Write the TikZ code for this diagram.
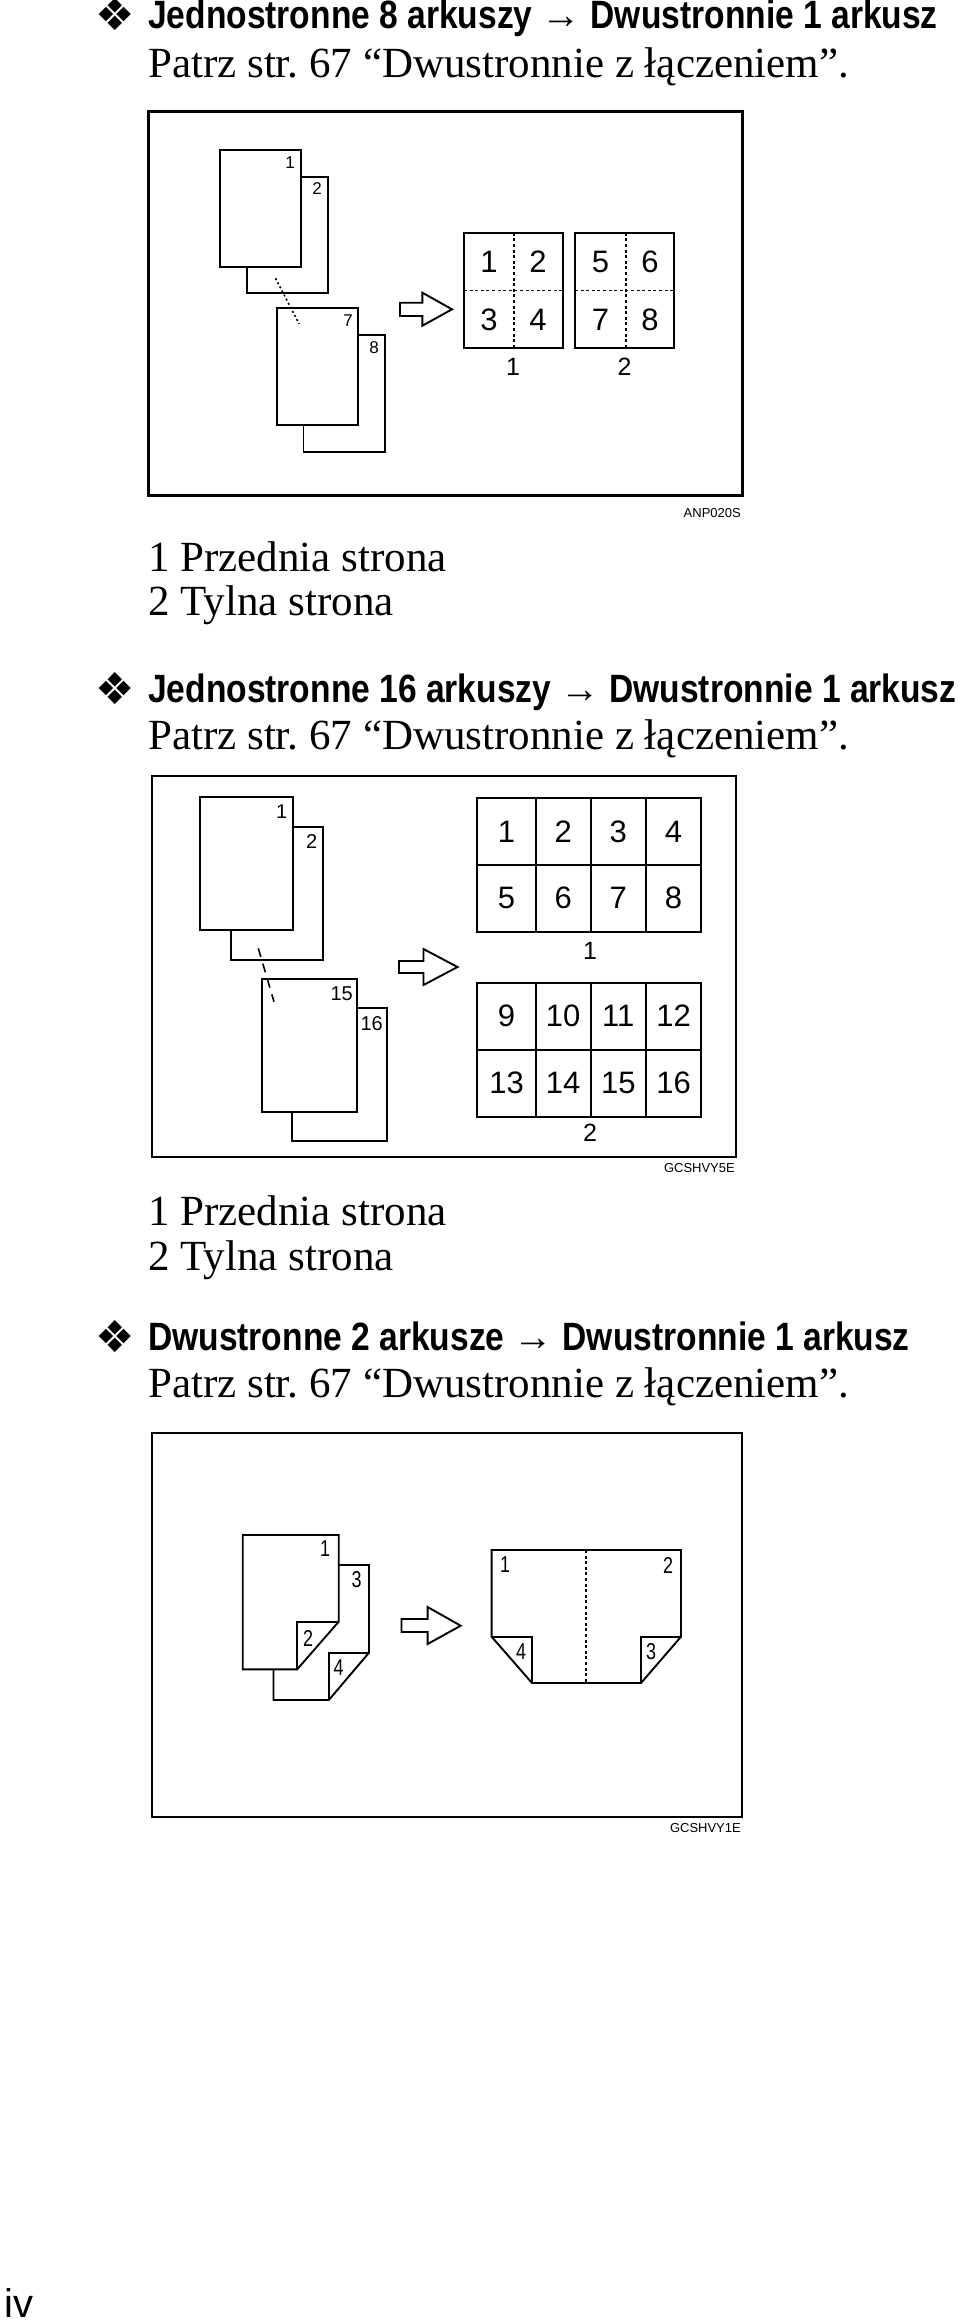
\documentclass[tikz,border=0pt]{standalone}
\usepackage{fontspec}
\setmainfont{Liberation Serif}
\newfontfamily\figfont{Liberation Sans}
\newfontfamily\headfont{Liberation Sans}[FakeStretch=0.85]
\newfontfamily\condfont{Liberation Sans}[FakeStretch=0.78]
\newfontfamily\dingfont{DejaVu Sans}
\newcommand{\bullitem}{{\dingfont\fontsize{44}{44}\selectfont ❖}}
\newcommand{\toarrow}{{\figfont\mdseries →}}

\begin{document}
\begin{tikzpicture}[x=1pt,y=-1pt,line join=miter,
    heading/.style={anchor=base west,inner sep=0pt,font=\headfont\bfseries\fontsize{39.5}{44}\selectfont},
    bodytext/.style={anchor=base west,inner sep=0pt,font=\fontsize{43}{50}\selectfont},
    figcode/.style={anchor=base east,inner sep=0pt,font=\figfont\fontsize{13}{15}\selectfont},
    figframe/.style={draw,line width=2pt},
    paper/.style={draw,fill=white,line width=1.9pt},
    pagenum/.style={inner sep=0pt,font=\figfont\fontsize{17}{20}\selectfont},
    bignum/.style={inner sep=0pt,font=\figfont\fontsize{20}{24}\selectfont},
    cellnum/.style={inner sep=0pt,font=\figfont\fontsize{31}{34}\selectfont},
    sidenum/.style={inner sep=0pt,font=\figfont\fontsize{25}{30}\selectfont},
    foldnum/.style={inner sep=0pt,font=\condfont\fontsize{23}{26}\selectfont},
    bigarrow/.style={draw,fill=white,line width=1.9pt}]
  \useasboundingbox (0,0) rectangle (960,2321);

  % --- 8 sheets -> 1 sheet
  \node[inner sep=0pt] (d1) at (115,15) {\bullitem};
  \node[heading] (h1) at (148,28) {Jednostronne 8 arkuszy \toarrow{} Dwustronnie 1 arkusz};
  \node[bodytext] (p1) at (148,77) {Patrz str.\ 67 “Dwustronnie z łączeniem”.};
  \draw[figframe,line width=3pt] (148.7,111.7) rectangle (742,495);
  \draw[paper] (246.7,176.7) rectangle (327.6,293.3);
  \draw[paper] (220,150) rectangle (301,266.7);
  \draw[paper] (303.5,335) rectangle (385,451.7);
  \draw[paper] (277,308.3) rectangle (358.4,425);
  \draw[line width=1.6pt,dash pattern=on 2pt off 2.6pt] (275.5,278.3) -- (299.2,324);
  \node[pagenum] (a1) at (290,162.7) {1};
  \node[pagenum] (a2) at (317,189) {2};
  \node[pagenum] (a7) at (348,320.7) {7};
  \node[pagenum] (a8) at (374,347.3) {8};
  \draw[bigarrow] (400,302.7) -- (422.4,302.7) -- (422.4,292.7) -- (452,309.3)
    -- (422.4,325.7) -- (422.4,316) -- (400,316) -- cycle;
  \draw[line width=1.9pt] (464,232.7) rectangle (562.6,348.3);
  \draw[line width=1.9pt] (575,232.7) rectangle (674,348.3);
  \draw[line width=1.4pt,dash pattern=on 3pt off 2.6pt] (514,232.7) -- (514,348.3);
  \draw[line width=1.4pt,dash pattern=on 3pt off 2.6pt] (464,290.7) -- (562.6,290.7);
  \draw[line width=1.4pt,dash pattern=on 3pt off 2.6pt] (626,232.7) -- (626,348.3);
  \draw[line width=1.4pt,dash pattern=on 3pt off 2.6pt] (575,290.7) -- (674,290.7);
  \node[cellnum] (b1) at (489,262) {1};
  \node[cellnum] (b2) at (538,262) {2};
  \node[cellnum] (b3) at (489,319.5) {3};
  \node[cellnum] (b4) at (538,319.5) {4};
  \node[cellnum] (b5) at (600.5,262) {5};
  \node[cellnum] (b6) at (650,262) {6};
  \node[cellnum] (b7) at (600.5,319.5) {7};
  \node[cellnum] (b8) at (650,319.5) {8};
  \node[sidenum] (f1) at (513,367) {1};
  \node[sidenum] (f2) at (624.5,367) {2};
  \node[figcode] (c1) at (741,517) {ANP020S};
  \node[bodytext] (l1) at (148,571) {1 Przednia strona};
  \node[bodytext] (l2) at (148,615) {2 Tylna strona};

  % --- 16 sheets -> 1 sheet
  \node[inner sep=0pt] (d2) at (115,689) {\bullitem};
  \node[heading] (h2) at (148,702) {Jednostronne 16 arkuszy \toarrow{} Dwustronnie 1 arkusz};
  \node[bodytext] (p2) at (148,749) {Patrz str.\ 67 “Dwustronnie z łączeniem”.};
  \draw[figframe] (152,776) rectangle (736,1156.7);
  \draw[paper] (230.7,826.7) rectangle (323.3,960);
  \draw[paper] (200,796.7) rectangle (293.3,930);
  \draw[paper] (292.3,1007.7) rectangle (386.7,1141);
  \draw[paper] (262.3,979) rectangle (356.7,1112.3);
  \draw[line width=1.6pt,dash pattern=on 9pt off 7pt] (258.3,948.3) -- (274,1001.7);
  \node[bignum] (e1) at (281.7,811.7) {1};
  \node[bignum] (e2) at (311.7,841.7) {2};
  \node[bignum] (e15) at (341.7,993.3) {15};
  \node[bignum] (e16) at (371.7,1023.3) {16};
  \draw[bigarrow] (399,961) -- (423.5,961) -- (423.5,949) -- (457.5,967)
    -- (423.5,985) -- (423.5,973) -- (399,973) -- cycle;
  \draw[line width=1.9pt] (477.3,798.3) rectangle (701,931.7);
  \draw[line width=1.9pt] (477.3,865) -- (701,865);
  \draw[line width=1.9pt] (535.7,798.3) -- (535.7,931.7);
  \draw[line width=1.9pt] (590.7,798.3) -- (590.7,931.7);
  \draw[line width=1.9pt] (646,798.3) -- (646,931.7);
  \draw[line width=1.9pt] (477.3,982.7) rectangle (701,1116.7);
  \draw[line width=1.9pt] (477.3,1049.7) -- (701,1049.7);
  \draw[line width=1.9pt] (535.7,982.7) -- (535.7,1116.7);
  \draw[line width=1.9pt] (590.7,982.7) -- (590.7,1116.7);
  \draw[line width=1.9pt] (646,982.7) -- (646,1116.7);
  \node[cellnum] (g1) at (506.5,831.7) {1};
  \node[cellnum] (g2) at (563.2,831.7) {2};
  \node[cellnum] (g3) at (618.3,831.7) {3};
  \node[cellnum] (g4) at (673.5,831.7) {4};
  \node[cellnum] (g5) at (506.5,898.3) {5};
  \node[cellnum] (g6) at (563.2,898.3) {6};
  \node[cellnum] (g7) at (618.3,898.3) {7};
  \node[cellnum] (g8) at (673.5,898.3) {8};
  \node[cellnum] (g9) at (506.5,1016) {9};
  \node[cellnum] (g10) at (563.2,1016) {10};
  \node[cellnum] (g11) at (618.3,1016) {11};
  \node[cellnum] (g12) at (673.5,1016) {12};
  \node[cellnum] (g13) at (506.5,1083) {13};
  \node[cellnum] (g14) at (563.2,1083) {14};
  \node[cellnum] (g15) at (618.3,1083) {15};
  \node[cellnum] (g16) at (673.5,1083) {16};
  \node[sidenum] (k1) at (590,951) {1};
  \node[sidenum] (k2) at (590,1133) {2};
  \node[figcode] (c2) at (735,1172) {GCSHVY5E};
  \node[bodytext] (m1) at (148,1225) {1 Przednia strona};
  \node[bodytext] (m2) at (148,1270) {2 Tylna strona};

  % --- 2 duplex sheets -> 1 sheet
  \node[inner sep=0pt] (d3) at (115,1337) {\bullitem};
  \node[heading] (h3) at (148,1350) {Dwustronne 2 arkusze \toarrow{} Dwustronnie 1 arkusz};
  \node[bodytext] (p3) at (148,1397) {Patrz str.\ 67 “Dwustronnie z łączeniem”.};
  \draw[figframe] (152,1433) rectangle (742,1816.7);
  \draw[paper] (273.5,1669.3) -- (273.5,1565) -- (369,1565) -- (369,1652.7)
    -- (328.8,1700) -- (273.5,1700) -- cycle;
  \draw[line width=1.9pt] (369,1652.7) -- (328.8,1652.7) -- (328.8,1700);
  \draw[paper] (242.7,1535) -- (338.7,1535) -- (338.7,1621.7) -- (297.2,1669.3)
    -- (242.7,1669.3) -- cycle;
  \draw[line width=1.9pt] (338.7,1621.7) -- (297.2,1621.7) -- (297.2,1669.3);
  \node[foldnum] (q1) at (325,1549) {1};
  \node[foldnum] (q3) at (356.5,1580) {3};
  \node[foldnum] (q2) at (308,1638) {2};
  \node[foldnum] (q4) at (338.7,1668) {4};
  \draw[bigarrow] (401.5,1619) -- (427.6,1619) -- (427.6,1607) -- (460.7,1625.7)
    -- (427.6,1644) -- (427.6,1632) -- (401.5,1632) -- cycle;
  \draw[paper] (491.6,1550) -- (681,1550) -- (681,1636.7) -- (641,1683)
    -- (532,1683) -- (491.6,1636.7) -- cycle;
  \draw[line width=1.9pt] (491.6,1636.7) -- (532,1636.7) -- (532,1683);
  \draw[line width=1.9pt] (681,1636.7) -- (641,1636.7) -- (641,1683);
  \draw[line width=1.4pt,dash pattern=on 3pt off 2.6pt] (586,1550) -- (586,1683);
  \node[foldnum] (r1) at (505,1565) {1};
  \node[foldnum] (r2) at (668,1565) {2};
  \node[foldnum] (r4) at (521,1652) {4};
  \node[foldnum] (r3) at (651,1652) {3};
  \node[figcode] (c3) at (741,1832) {GCSHVY1E};

  \node[anchor=base west,inner sep=0pt,font=\figfont\fontsize{40}{44}\selectfont] (pg) at (4,2317) {iv};
\end{tikzpicture}
\end{document}
